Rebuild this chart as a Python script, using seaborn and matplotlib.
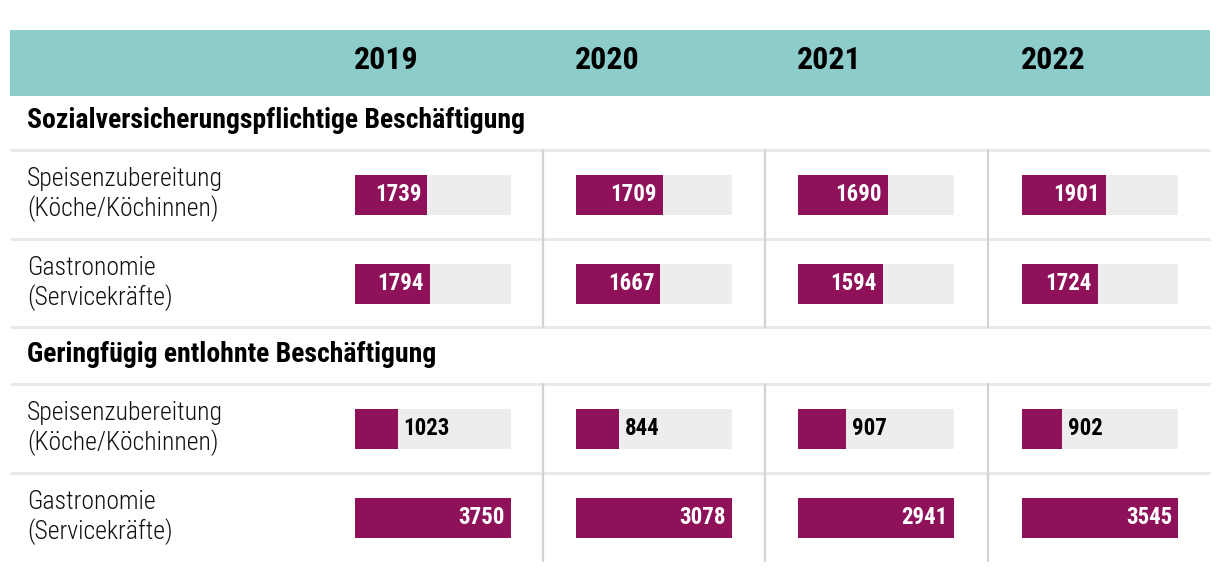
import matplotlib
matplotlib.use("Agg")
import matplotlib.pyplot as plt
from matplotlib import font_manager
from matplotlib.patches import Rectangle
import seaborn as sns
import pandas as pd

# ---------------- data ----------------
years = ["2019", "2020", "2021", "2022"]
sections = ["Sozialversicherungspflichtige Beschäftigung",
            "Geringfügig entlohnte Beschäftigung"]
row_labels = ["Speisenzubereitung\n(Köche/Köchinnen)",
              "Gastronomie\n(Servicekräfte)"]
sv_speisen = [1739, 1709, 1690, 1901]
sv_gastro = [1794, 1667, 1594, 1724]
gf_speisen = [1023, 844, 907, 902]
gf_gastro = [3750, 3078, 2941, 3545]

# ---------------- fonts ----------------
def pick(fams):
    for f in fams:
        try:
            font_manager.findfont(font_manager.FontProperties(family=f), fallback_to_default=False)
            return f
        except Exception:
            pass
    return "DejaVu Sans"

sns.set_theme(style="white")
FONT = pick(["Roboto Condensed", "Liberation Sans Narrow", "Open Sans Condensed", "Roboto", "DejaVu Sans"])
plt.rcParams["font.family"] = [FONT, "DejaVu Sans"]

# ---------------- style ----------------
W, H = 1220, 572
TEAL = "#8ccccb"
PURPLE = "#8e1159"
TRACK = "#ededed"
HLINE = "#e9e9e9"
VLINE = "#d3d3d3"

fig = plt.figure(figsize=(W / 100, H / 100), dpi=100)
bg = fig.add_axes([0, 0, 1, 1])
bg.set_xlim(0, W)
bg.set_ylim(H, 0)
bg.axis("off")

# header band
bg.add_patch(Rectangle((10, 30), 1200, 66, color=TEAL, lw=0, zorder=0))
track_left = [355, 576, 798, 1022]
track_w = 156
for x, y in zip(track_left, years):
    bg.text(x - 1, 60, y, fontsize=23, fontweight="heavy", ha="left", va="center", color="#000000")

# section layout (pixel positions)
sec_title_y = [121, 355]
sec_top = [150, 384]
row_h = 89
for s, title in enumerate(sections):
    bg.text(27, sec_title_y[s], title, fontsize=20, fontweight="heavy", ha="left", va="center",
            color="#000000")
    top = sec_top[s]
    for k in range(2):
        bg.plot([10, 1210], [top + k * row_h, top + k * row_h], color=HLINE, lw=2.2, solid_capstyle="butt", zorder=1)
        bg.text(27, top + k * row_h + row_h / 2, row_labels[k], fontsize=18.5, fontweight="light",
                ha="left", va="center", linespacing=1.25, color="#111111")
    if s == 0:
        bg.plot([10, 1210], [top + 2 * row_h - 1, top + 2 * row_h - 1], color=HLINE, lw=2.2, solid_capstyle="butt", zorder=1)
    for vx in [543, 765, 988]:
        bg.plot([vx, vx], [top, top + 2 * row_h - 1], color=VLINE, lw=1.6, zorder=1)

# ---------------- bars ----------------
data = [[sv_speisen, sv_gastro], [gf_speisen, gf_gastro]]
col_max = [max(a, b, c, d) for a, b, c, d in zip(sv_speisen, sv_gastro, gf_speisen, gf_gastro)]
bar_frac = 40 / row_h

for s in range(2):
    top = sec_top[s]
    for j in range(4):
        left = track_left[j]
        ax = fig.add_axes([left / W, 1 - (top + 2 * row_h) / H, track_w / W, 2 * row_h / H])
        vals = [data[s][0][j], data[s][1][j]]
        df = pd.DataFrame({"row": ["a", "b"], "val": vals, "full": [col_max[j]] * 2})
        sns.barplot(data=df, y="row", x="full", orient="h", color=TRACK, width=bar_frac,
                    saturation=1, ax=ax, linewidth=0)
        sns.barplot(data=df, y="row", x="val", orient="h", color=PURPLE, width=bar_frac,
                    saturation=1, ax=ax, linewidth=0)
        ax.set_xlim(0, col_max[j])
        ax.set_ylim(1.5, -0.5)
        ax.axis("off")
        ax.patch.set_alpha(0)
        for i, v in enumerate(vals):
            pad = col_max[j] * 6 / track_w
            if v / col_max[j] > 0.38:
                ax.text(v - pad, i, f"{v}", color="white", fontsize=16.5, fontweight="heavy",
                        ha="right", va="center")
            else:
                ax.text(v + pad, i, f"{v}", color="black", fontsize=16.5, fontweight="heavy",
                        ha="left", va="center")

fig.savefig("out.png", dpi=100, facecolor="white")
